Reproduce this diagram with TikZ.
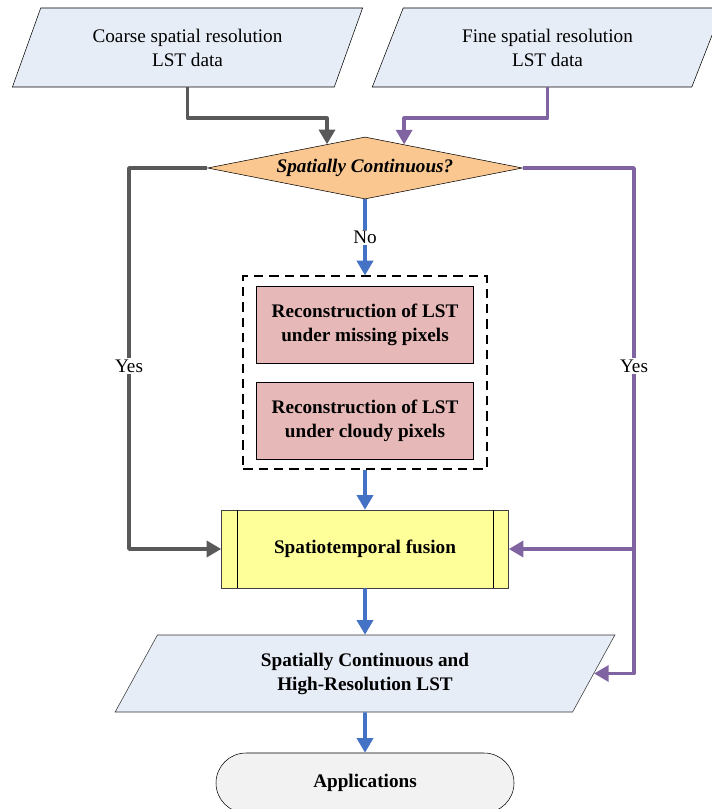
\documentclass[tikz,border=0pt]{standalone}
\usepackage{fontspec}
\setmainfont{Liberation Serif}
\usetikzlibrary{shapes.geometric,arrows.meta,fit}

\definecolor{datafill}{HTML}{E7EDF7}
\definecolor{decfill}{HTML}{FAC791}
\definecolor{recfill}{HTML}{E6B9B8}
\definecolor{fusefill}{HTML}{FFFF99}
\definecolor{appfill}{HTML}{F2F2F2}
\definecolor{lgray}{HTML}{595959}
\definecolor{lpurple}{HTML}{8064A2}
\definecolor{lblue}{HTML}{4472C4}

\begin{document}
\begin{tikzpicture}[x=0.75pt,y=-0.75pt]

\def \fsize{\fontsize{14.4}{18}\selectfont}

\tikzstyle{data} = [trapezium, trapezium left angle=64, trapezium right angle=116, trapezium stretches=true, draw, thin, fill=datafill, text centered, align=center, inner sep=0pt, font=\fsize]
\tikzstyle{decision} = [diamond, aspect=5.08, draw, thin, fill=decfill, inner sep=0pt, minimum width=236.25pt, minimum height=46.5pt, font=\fsize\bfseries\itshape]
\tikzstyle{block} = [rectangle, draw, thin, fill=recfill, text centered, align=center, minimum width=162.75pt, minimum height=57.75pt, font=\fsize\bfseries]
\tikzstyle{fuseblock} = [rectangle, draw=black!75, thin, fill=fusefill, minimum width=215.25pt, minimum height=58.5pt, font=\fsize\bfseries]
\tikzstyle{appblock} = [rectangle, draw, thin, fill=appfill, rounded corners=22.5pt, minimum width=223.5pt, minimum height=45pt, font=\fsize\bfseries]
\tikzstyle{lbl} = [fill=white, inner sep=1pt, font=\fsize]
\tikzstyle{grayline} = [draw=lgray, line width=2.7pt, line join=round, -{Triangle[length=11pt,width=12pt]}]
\tikzstyle{purpleline} = [grayline, draw=lpurple]
\tikzstyle{blueline} = [grayline, draw=lblue]

\useasboundingbox (0,0) rectangle (711,809);

%Input data
\node[data, minimum width=263.25pt, minimum height=59.25pt](coarse) at (187.5,47.5){Coarse spatial resolution\\LST data};
\node[data, minimum width=263.25pt, minimum height=59.25pt](fine) at (547.5,47.5){Fine spatial resolution\\LST data};

%Decision
\node[decision](dec) at (365,168){Spatially Continuous?};

%Reconstruction blocks in dashed box
\node[block](recmiss) at (365,324.5){Reconstruction of LST\\under missing pixels};
\node[block](reccloud) at (365,420.5){Reconstruction of LST\\under cloudy pixels};
\node[draw, dashed, line width=1.5pt, dash pattern=on 7pt off 4.5pt, inner xsep=9.75pt, inner ysep=7pt, fit=(recmiss)(reccloud)](recbox){};

%Fusion block with side bars
\node[fuseblock](fusion) at (365,549){Spatiotemporal fusion};
\draw[thin] ([xshift=12pt]fusion.north west) -- ([xshift=12pt]fusion.south west);
\draw[thin] ([xshift=-12pt]fusion.north east) -- ([xshift=-12pt]fusion.south east);

%Output and applications
\node[data, trapezium left angle=63, trapezium right angle=117, draw=black!80, font=\fsize\bfseries, minimum width=375.75pt, minimum height=57.75pt](output) at (365,673.5){Spatially Continuous and\\High-Resolution LST};
\node[appblock](apps) at (365,783){Applications};

%Inputs to the decision
\draw[grayline] (coarse.south) -- ++(0,31) -| (dec.148);
\draw[purpleline] (fine.south) -- ++(0,31) -| (dec.31);

%Yes branches
\coordinate (lyes) at (129,366);
\coordinate (ryes) at (634,366);
\draw[grayline] (dec.west) -| (lyes) |- (fusion.west);
\draw[purpleline] (dec.east) -| (ryes) |- (output.east);
\draw[purpleline] (ryes) |- (fusion.east);
\node[lbl](yesl) at (lyes){Yes};
\node[lbl](yesr) at (ryes){Yes};

%No branch down the middle
\draw[blueline] (dec.south) -- (recbox.north) node[lbl, midway](nolbl){No};
\draw[blueline] (recbox.south) -- (fusion.north);
\draw[blueline] (fusion.south) -- (output.north);
\draw[blueline] (output.south) -- (apps.north);

\end{tikzpicture}
\end{document}
